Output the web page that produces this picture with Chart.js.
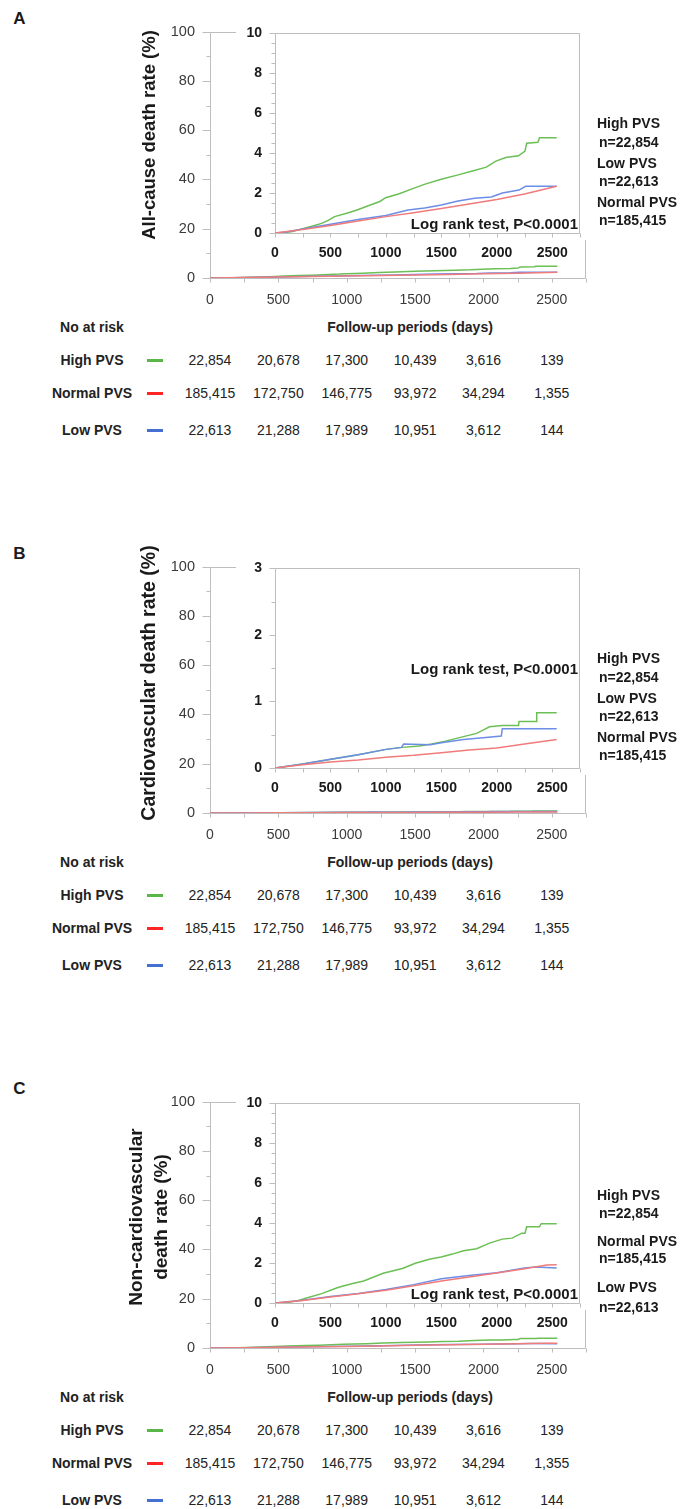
<!DOCTYPE html>
<html>
<head>
<meta charset="utf-8">
<script src="https://cdn.jsdelivr.net/npm/chart.js@4/dist/chart.umd.min.js"></script>
<style>
  body { margin: 0; background: #fff; width: 685px; height: 1509px; position: relative; overflow: hidden;
         font-family: "Liberation Sans", Arial, sans-serif; color: #1a1a1a; }
  canvas { position: absolute; }
  .t { position: absolute; white-space: nowrap; line-height: 1; }
  .b { font-weight: bold; }
  .letter { font-weight: bold; font-size: 17px; transform: translate(-50%, -50%); }
  .ytitle { font-weight: bold; text-align: center; transform: translate(-50%, -50%) rotate(-90deg); }
  .grp { font-weight: bold; font-size: 14px; transform: translateY(-50%); }
  .lr { font-weight: bold; font-size: 15px; transform: translate(-100%, -50%); }
  .cell { font-size: 14px; color: #222; transform: translate(-50%, -50%); }
  .dash { position: absolute; width: 16px; height: 3px; }
</style>
</head>
<body>
<script>
const GREEN = '#6bbf55', RED = '#ef7b7b', BLUE = '#6d8de6';
const DASH_GREEN = '#5cb548', DASH_RED = '#ff2626', DASH_BLUE = '#4570d2';
const AXIS = '#bdbdbd';
const FONT = '"Liberation Sans", Arial, sans-serif';

// Panel A: all-cause death (%)
const daysA_high = [0, 100, 160, 250, 364, 420, 480, 538, 654, 740, 829, 945, 998, 1120, 1236, 1353, 1498, 1643, 1789, 1905, 1992, 2080, 2196, 2254, 2269, 2371, 2385, 2540];
const rateA_high = [0, 0.03, 0.08, 0.22, 0.39, 0.48, 0.63, 0.82, 1.0, 1.15, 1.34, 1.58, 1.77, 1.97, 2.21, 2.45, 2.69, 2.9, 3.12, 3.3, 3.6, 3.78, 3.87, 4.1, 4.5, 4.55, 4.77, 4.77];
const daysA_low = [0, 100, 250, 500, 750, 1000, 1200, 1350, 1500, 1650, 1800, 1950, 2000, 2050, 2200, 2260, 2540];
const rateA_low = [0, 0.05, 0.2, 0.44, 0.68, 0.88, 1.15, 1.25, 1.4, 1.6, 1.74, 1.8, 1.9, 2.0, 2.15, 2.34, 2.34];
const daysA_normal = [0, 250, 500, 750, 1000, 1250, 1500, 1750, 2000, 2250, 2540];
const rateA_normal = [0, 0.17, 0.38, 0.6, 0.82, 1.02, 1.23, 1.45, 1.68, 1.95, 2.34];

// Panel B: cardiovascular death (%)
const daysB_high = [0, 250, 509, 750, 1003, 1149, 1300, 1411, 1527, 1672, 1818, 1876, 1934, 2050, 2196, 2200, 2356, 2360, 2540];
const rateB_high = [0, 0.06, 0.13, 0.2, 0.28, 0.31, 0.33, 0.36, 0.4, 0.46, 0.52, 0.57, 0.62, 0.64, 0.64, 0.7, 0.7, 0.83, 0.83];
const daysB_low = [0, 250, 500, 750, 1000, 1140, 1160, 1400, 1500, 1700, 1900, 2040, 2050, 2540];
const rateB_low = [0, 0.06, 0.13, 0.2, 0.28, 0.31, 0.36, 0.35, 0.38, 0.43, 0.46, 0.48, 0.59, 0.59];
const daysB_normal = [0, 250, 500, 750, 1000, 1250, 1500, 1750, 2000, 2250, 2540];
const rateB_normal = [0, 0.05, 0.09, 0.12, 0.16, 0.19, 0.23, 0.27, 0.3, 0.36, 0.43];

// Panel C: non-cardiovascular death (%)
const daysC_high = [0, 100, 200, 276, 422, 567, 700, 800, 975, 1149, 1265, 1400, 1498, 1600, 1700, 1818, 1934, 2050, 2138, 2225, 2254, 2269, 2385, 2400, 2540];
const rateC_high = [0, 0.02, 0.1, 0.24, 0.47, 0.78, 0.98, 1.1, 1.49, 1.73, 1.99, 2.2, 2.3, 2.45, 2.62, 2.72, 3.0, 3.2, 3.25, 3.5, 3.5, 3.82, 3.82, 3.97, 3.97];
const daysC_normal = [0, 250, 500, 750, 1000, 1250, 1500, 1750, 2000, 2250, 2450, 2540];
const rateC_normal = [0, 0.13, 0.3, 0.46, 0.64, 0.86, 1.1, 1.3, 1.5, 1.72, 1.9, 1.92];
const daysC_low = [0, 250, 500, 750, 1000, 1250, 1500, 1750, 2000, 2250, 2350, 2540];
const rateC_low = [0, 0.14, 0.32, 0.48, 0.68, 0.92, 1.22, 1.38, 1.52, 1.76, 1.8, 1.75];

// Number at risk (same in all panels)
const riskDays = [0, 500, 1000, 1500, 2000, 2500];
const riskHigh = [22854, 20678, 17300, 10439, 3616, 139];
const riskNormal = [185415, 172750, 146775, 93972, 34294, 1355];
const riskLow = [22613, 21288, 17989, 10951, 3612, 144];

const nHigh = 'n=22,854', nNormal = 'n=185,415', nLow = 'n=22,613';

const panels = [
  { letter: 'A', top: 0, title: ['All-cause death rate (%)'], titleSize: 18.5, titleY: 135,
    insetMax: 10, insetLabelStep: 2, logY: 223,
    high: [daysA_high, rateA_high], normal: [daysA_normal, rateA_normal], low: [daysA_low, rateA_low],
    groups: [['High PVS', 123], [nHigh, 142], ['Low PVS', 163], [nLow, 181], ['Normal PVS', 202], [nNormal, 220]] },
  { letter: 'B', top: 535, title: ['Cardiovascular death rate (%)'], titleSize: 19.5, titleY: 148,
    insetMax: 3, insetLabelStep: 1, logY: 133,
    high: [daysB_high, rateB_high], normal: [daysB_normal, rateB_normal], low: [daysB_low, rateB_low],
    groups: [['High PVS', 123], [nHigh, 142], ['Low PVS', 163], [nLow, 181], ['Normal PVS', 202], [nNormal, 220]] },
  { letter: 'C', top: 1070, title: ['Non-cardiovascular', 'death rate (%)'], titleSize: 19, titleY: 147,
    insetMax: 10, insetLabelStep: 2, logY: 223,
    high: [daysC_high, rateC_high], normal: [daysC_normal, rateC_normal], low: [daysC_low, rateC_low],
    groups: [['High PVS', 125], [nHigh, 143], ['Normal PVS', 171], [nNormal, 188], ['Low PVS', 217], [nLow, 237]] }
];

function pts(days, vals) { return days.map((d, i) => ({ x: d, y: vals[i] })); }

function text(str, x, y, cls, style) {
  const el = document.createElement('div');
  el.className = 't ' + cls;
  el.textContent = str;
  el.style.left = x + 'px';
  el.style.top = y + 'px';
  if (style) Object.assign(el.style, style);
  document.body.appendChild(el);
  return el;
}

function makeCanvas(left, top, w, h) {
  const c = document.createElement('canvas');
  c.width = w; c.height = h;
  c.style.left = left + 'px'; c.style.top = top + 'px';
  c.style.width = w + 'px'; c.style.height = h + 'px';
  document.body.appendChild(c);
  return c;
}

// axis lines, frame and tick marks drawn from the chart's own scales
const axisDeco = {
  id: 'axisDeco',
  beforeDatasetsDraw(chart, args, o) {
    const { ctx, chartArea: a, scales: { x, y } } = chart;
    const L = Math.round(a.left) + 0.5, R = Math.round(a.right) - 0.5;
    const T = Math.round(a.top) + 0.5, B = Math.round(a.bottom) + 0.5;
    ctx.save();
    ctx.strokeStyle = AXIS; ctx.lineWidth = 1;
    ctx.beginPath();
    ctx.moveTo(L, T); ctx.lineTo(R, T); ctx.lineTo(R, B);
    ctx.moveTo(L, T); ctx.lineTo(L, B); ctx.lineTo(R, B);
    y.ticks.forEach(t => {
      const py = Math.round(y.getPixelForValue(t.value)) + 0.5;
      const len = t.label !== '' ? o.yMajor : o.yMinor;
      ctx.moveTo(L - len, py); ctx.lineTo(L, py);
    });
    x.ticks.forEach(t => {
      const px = Math.round(x.getPixelForValue(t.value)) + 0.5;
      ctx.moveTo(px, B); ctx.lineTo(px, B + o.xLen);
    });
    ctx.stroke();
    ctx.restore();
  }
};

// white backing for the inset so the main frame does not show through
const insetBg = {
  id: 'insetBg',
  beforeDraw(chart) {
    const { ctx, width, height, chartArea: a } = chart;
    ctx.save();
    ctx.fillStyle = '#fff';
    ctx.fillRect(0, 0, width, a.bottom + 7);
    ctx.fillRect(0, a.bottom + 7, a.right - 8, height - a.bottom - 7);
    ctx.restore();
  }
};

function datasets(p) {
  return [
    { data: pts(...p.normal), borderColor: RED },
    { data: pts(...p.low), borderColor: BLUE },
    { data: pts(...p.high), borderColor: GREEN }
  ];
}

function chartOptions(cfg) {
  return {
    responsive: false, animation: false, events: [],
    layout: { padding: cfg.padding },
    elements: { point: { radius: 0 }, line: { borderWidth: 1.5, tension: 0 } },
    plugins: { legend: { display: false }, tooltip: { enabled: false },
               axisDeco: { yMajor: cfg.yMajor, yMinor: cfg.yMinor, xLen: 4 } },
    scales: {
      x: { type: 'linear', min: 0, max: 2750,
           grid: { display: false, drawTicks: false }, border: { display: false },
           ticks: { stepSize: 250, autoSkip: false, maxRotation: 0, padding: cfg.xPad, color: cfg.color,
                    font: { family: FONT, size: 14, weight: cfg.weight },
                    callback: v => v % 500 === 0 ? String(v) : '' },
           afterFit: s => { s.height = cfg.xH; } },
      y: { type: 'linear', min: 0, max: cfg.yMax,
           grid: { display: false, drawTicks: false }, border: { display: false },
           ticks: { stepSize: cfg.yStep, autoSkip: false, padding: cfg.yPad, color: cfg.color,
                    font: { family: FONT, size: cfg.ySize, weight: cfg.weight },
                    callback: v => Math.abs(v / cfg.yLabelStep - Math.round(v / cfg.yLabelStep)) < 1e-6 ? String(Math.round(v)) : '' },
           afterFit: s => { s.width = cfg.yW; } }
    }
  };
}

panels.forEach(p => {
  const T = p.top;

  text(p.letter, 19.5, T + 18, 'letter');

  // main chart 0-100 %
  const mainLeft = 130, mainTop = T + 8;
  const main = new Chart(makeCanvas(mainLeft, mainTop, 470, 310), {
    type: 'line',
    data: { datasets: datasets(p) },
    options: chartOptions({ padding: { top: 14, right: 11, left: 0, bottom: 0 }, yMax: 100, yStep: 10, yLabelStep: 20,
                            yMajor: 8, yMinor: 4, yW: 80, xH: 40, xPad: 14, yPad: 15, ySize: 14.5,
                            color: '#3a3a3a', weight: 'normal' }),
    plugins: [axisDeco]
  });

  // zoomed inset
  new Chart(makeCanvas(236, T + 12, 356, 252), {
    type: 'line',
    data: { datasets: datasets(p) },
    options: chartOptions({ padding: { top: 10, right: 3, left: 0, bottom: 0 }, yMax: p.insetMax, yStep: 0.5,
                            yLabelStep: p.insetLabelStep, yMajor: 6, yMinor: 4, yW: 39, xH: 31, xPad: 12, yPad: 13,
                            ySize: 14, color: '#1a1a1a', weight: 'bold' }),
    plugins: [insetBg, axisDeco]
  });

  // y-axis title
  const tt = text('', 148, T + p.titleY, 'ytitle', { fontSize: p.titleSize + 'px', lineHeight: '25px' });
  tt.innerHTML = p.title.join('<br>');

  text('Log rank test, P<0.0001', 578, T + p.logY, 'lr');
  p.groups.forEach(([s, y]) => text(s, s.startsWith('n=') ? 599 : 597, T + y, 'grp'));

  // number at risk table, columns placed by the main x scale
  const xs = main.scales.x;
  text('No at risk', 92, T + 327, 'cell b');
  text('Follow-up periods (days)', 410, T + 327, 'cell b');
  const rows = [['High PVS', riskHigh, DASH_GREEN, 360], ['Normal PVS', riskNormal, DASH_RED, 393], ['Low PVS', riskLow, DASH_BLUE, 430]];
  rows.forEach(([name, vals, col, y]) => {
    text(name, 92, T + y, 'cell b');
    const d = document.createElement('div');
    d.className = 'dash';
    d.style.background = col;
    d.style.left = '147px'; d.style.top = (T + y - 1) + 'px';
    document.body.appendChild(d);
    vals.forEach((v, i) => text(v.toLocaleString('en-US'), mainLeft + xs.getPixelForValue(riskDays[i]), T + y, 'cell'));
  });
});
</script>
</body>
</html>
